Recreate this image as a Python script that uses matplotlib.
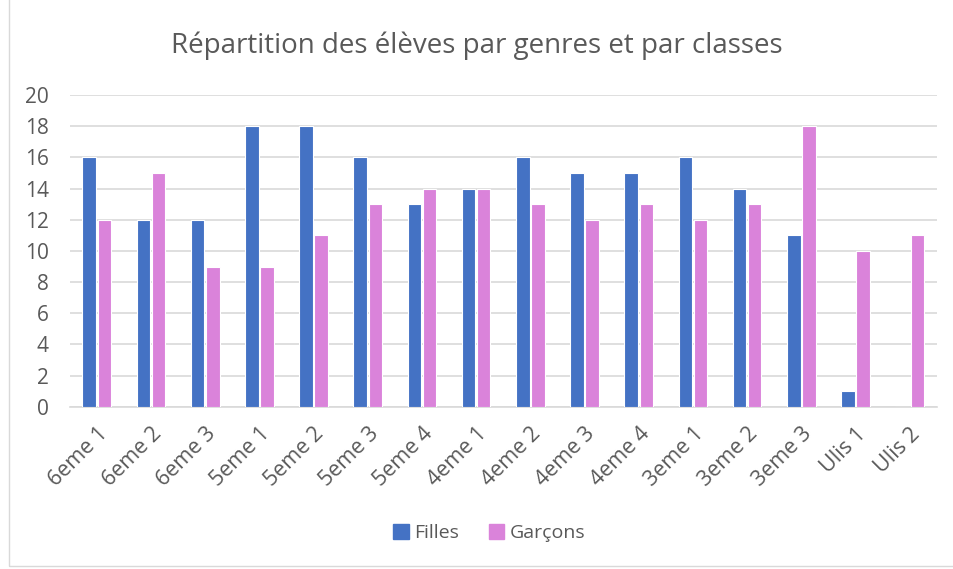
import matplotlib.pyplot as plt
import matplotlib.patches as mpatches
import numpy as np

classes = ["6eme 1", "6eme 2", "6eme 3", "5eme 1", "5eme 2", "5eme 3", "5eme 4",
           "4eme 1", "4eme 2", "4eme 3", "4eme 4", "3eme 1", "3eme 2", "3eme 3",
           "Ulis 1", "Ulis 2"]
filles = [16, 12, 12, 18, 18, 16, 13, 14, 16, 15, 15, 16, 14, 11, 1, 0]
garcons = [12, 15, 9, 9, 11, 13, 14, 14, 13, 12, 13, 12, 13, 18, 10, 11]

BLUE = "#4472C4"
PINK = "#DA83DA"
TEXT = "#595959"

plt.rcParams["font.family"] = ["Open Sans", "DejaVu Sans"]

fig = plt.figure(figsize=(9.54, 5.69), dpi=100)
ax = fig.add_axes([0.073, 0.285, 0.909, 0.548])

x = np.arange(len(classes))
w = 0.25
ax.bar(x - 0.14, filles, w, color=BLUE, edgecolor="white", linewidth=0.8, label="Filles", zorder=3)
ax.bar(x + 0.14, garcons, w, color=PINK, edgecolor="white", linewidth=0.8, label="Garçons", zorder=3)

ax.set_xlim(-0.5, len(classes) - 0.5)
ax.set_ylim(0, 20)
ax.set_yticks(range(0, 21, 2))
ax.yaxis.grid(True, color="#D9D9D9", linewidth=1.2, zorder=0)
ax.set_axisbelow(True)
for s in ["top", "right", "left"]:
    ax.spines[s].set_visible(False)
ax.spines["bottom"].set_color("#D9D9D9")
ax.spines["bottom"].set_linewidth(1.2)
ax.tick_params(axis="both", length=0, colors=TEXT)
ax.tick_params(axis="y", pad=15, labelsize=15)
ax.set_xticks(x)
ax.set_xticklabels(classes, rotation=45, ha="right", rotation_mode="anchor")
ax.tick_params(axis="x", pad=12, labelsize=15.5)

fig.suptitle("Répartition des élèves par genres et par classes", y=0.945,
             fontsize=20, color=TEXT)

handles = [mpatches.Patch(color=BLUE, label="Filles"),
           mpatches.Patch(color=PINK, label="Garçons")]
fig.legend(handles=handles, loc="center", bbox_to_anchor=(0.513, 0.063), ncol=2,
           frameon=False, fontsize=14, labelcolor=TEXT, handlelength=0.8,
           handleheight=0.8, handletextpad=0.3, columnspacing=1.5)

# chart frame
fig.add_artist(mpatches.Rectangle((0.009, 0.006), 1.2, 1.2, transform=fig.transFigure,
                                  fill=False, edgecolor="#D9D9D9", linewidth=1))

fig.savefig("out.png", dpi=100)
